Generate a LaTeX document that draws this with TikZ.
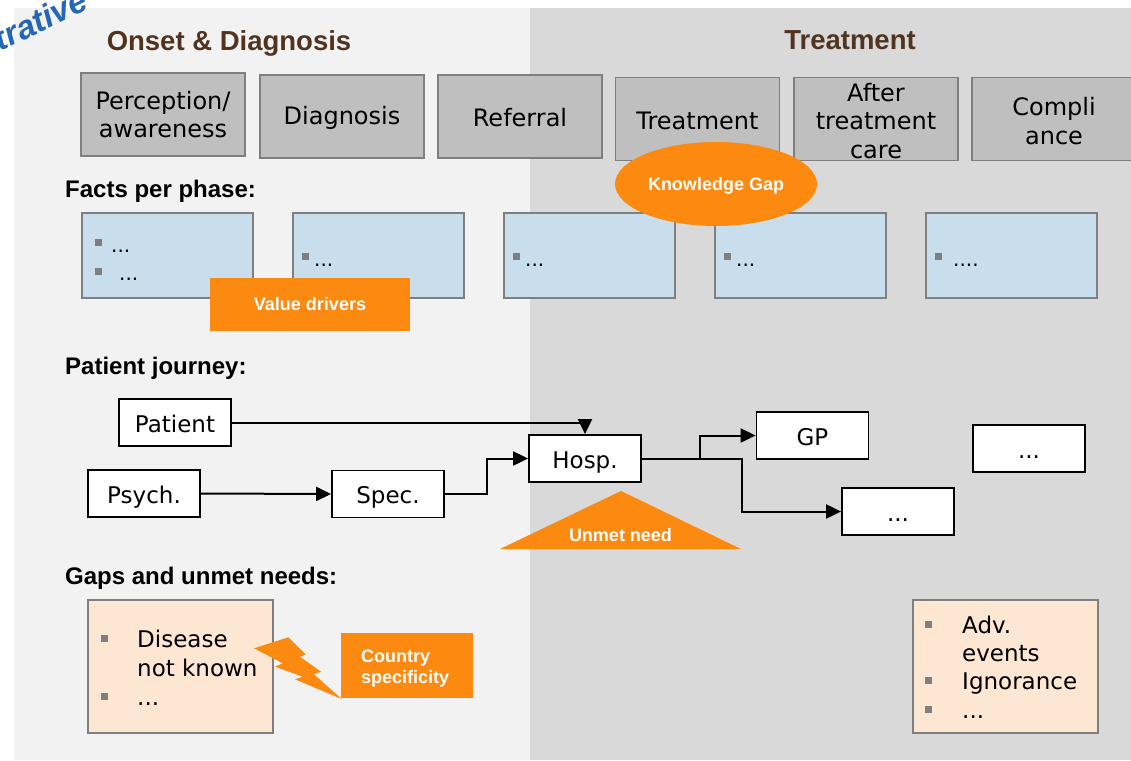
\documentclass[tikz,border=0pt]{standalone}
\usepackage{fontspec}
\setmainfont{DejaVu Sans}
\newfontfamily\hdrfont{Liberation Sans}
\usetikzlibrary{arrows.meta,shapes.geometric}

\definecolor{panelL}{HTML}{F2F2F2}
\definecolor{panelR}{HTML}{D9D9D9}
\definecolor{phasefill}{HTML}{BFBFBF}
\definecolor{edgegray}{HTML}{7F7F7F}
\definecolor{factfill}{HTML}{C9DEEC}
\definecolor{gapfill}{HTML}{FDE6D2}
\definecolor{accent}{HTML}{FD8A10}
\definecolor{headbrown}{HTML}{50341F}
\definecolor{stampblue}{HTML}{2367B5}

\begin{document}
\begin{tikzpicture}[x=1pt,y=-1pt,
  phasebox/.style={draw=edgegray, line width=1.8pt, fill=phasefill, minimum width=164pt, minimum height=83pt, inner sep=0pt},
  phasetext/.style={align=center, font=\fontsize{24}{28.5}\selectfont, inner sep=0pt},
  factbox/.style={draw=edgegray, line width=1.8pt, fill=factfill, minimum width=171pt, minimum height=85pt, inner sep=0pt},
  bulletsq/.style={fill=edgegray, minimum size=7pt, inner sep=0pt},
  dotstext/.style={anchor=base west, inner sep=0pt, font=\fontsize{20}{24}\selectfont},
  secthead/.style={anchor=base west, inner sep=0pt, font=\hdrfont\bfseries\fontsize{24}{28}\selectfont},
  heading/.style={anchor=base, inner sep=0pt, text=headbrown, font=\hdrfont\bfseries\fontsize{27.5}{32}\selectfont},
  accentbox/.style={fill=accent, text=white, font=\hdrfont\bfseries\fontsize{18}{21}\selectfont, inner sep=0pt},
  accenttext/.style={text=white, font=\hdrfont\bfseries\fontsize{18}{21}\selectfont, inner sep=0pt, anchor=base west},
  stepnode/.style={draw=black, line width=1.8pt, fill=white, minimum width=112pt, minimum height=47pt, inner sep=0pt, text height=19pt, text depth=0pt, font=\fontsize{23}{28}\selectfont},
  flow/.style={line width=2pt, -{Triangle[length=15pt,width=14pt]}},
  gapbox/.style={draw=edgegray, line width=1.8pt, fill=gapfill, minimum width=185pt, minimum height=133pt, inner sep=0pt},
  gapline/.style={anchor=base west, inner sep=0pt, font=\fontsize{23}{28}\selectfont},
]
\useasboundingbox (0,0) rectangle (1131,760);

% background panels
\fill[panelL] (14,8.5) rectangle (530,760);
\fill[panelR] (530,8.5) rectangle (1131,760);

% stamp in the corner
\node[rotate=26, anchor=base east, text=stampblue, inner sep=0pt,
      font=\hdrfont\bfseries\itshape\fontsize{33}{38}\selectfont] (stamp) at (90,8) {Illustrative};

% column headings
\node[heading] (hOnset) at (229,50) {Onset \& Diagnosis};
\node[heading] (hTreat) at (850,49) {Treatment};

% phases
\node[phasebox] (ph1) at (163,114.5) {};
\node[phasetext] (ph1t) at (ph1) {Perception/\\awareness};
\node[phasebox] (ph2) at (342,116.5) {};
\node[phasetext] (ph2t) at (342,118) {Diagnosis};
\node[phasebox] (ph3) at (520,116.5) {};
\node[phasetext] (ph3t) at (520,118) {Referral};
\node[phasebox] (ph4) at (697.5,119) {};
\node[phasetext] (ph4t) at (697.5,121) {Treatment};
\node[phasebox] (ph5) at (876,119) {};
\node[phasetext] (ph5t) at (876,121) {After\\treatment\\care};
\node[phasebox] (ph6) at (1054,119) {};
\node[phasetext] (ph6t) at (1054,121) {Compli\\ance};

% facts per phase
\node[secthead] (sFacts) at (65,197) {Facts per phase:};
\node[factbox] (f1) at (167.5,255.5) {};
\node[factbox] (f2) at (378.5,255.5) {};
\node[factbox] (f3) at (589.5,255.5) {};
\node[factbox] (f4) at (800.5,255.5) {};
\node[factbox] (f5) at (1011.5,255.5) {};

\node[bulletsq] (f1b1) at (98.5,242) {};
\node[dotstext] (f1d1) at (111,252) {...};
\node[bulletsq] (f1b2) at (98.5,271.5) {};
\node[dotstext] (f1d2) at (119,280) {...};
\node[bulletsq] (f2b) at (305,256) {};
\node[dotstext] (f2d) at (314,266) {...};
\node[bulletsq] (f3b) at (516.5,256) {};
\node[dotstext] (f3d) at (525,266) {...};
\node[bulletsq] (f4b) at (727.5,256) {};
\node[dotstext] (f4d) at (736,266) {...};
\node[bulletsq] (f5b) at (938.5,256) {};
\node[dotstext] (f5d) at (953,266) {....};

% callouts over the facts row
\node[accentbox, minimum width=200pt, minimum height=53pt] (vd) at (310,304.5) {Value drivers};
\node[accentbox, ellipse, minimum width=202pt, minimum height=84pt, text height=13pt, text depth=0pt] (kg) at (716,184) {Knowledge Gap};

% patient journey
\node[secthead] (sJourney) at (65,374) {Patient journey:};
\node[stepnode] (patient) at (175,422.5) {Patient};
\node[stepnode] (psych) at (144,493.5) {Psych.};
\node[stepnode] (spec) at (388,494) {Spec.};
\node[stepnode] (hosp) at (585,458.5) {Hosp.};
\node[stepnode] (gp) at (812.5,435.5) {GP};
\node[stepnode] (more1) at (1029,448.5) {...};
\node[stepnode] (more2) at (898,511.5) {...};

\draw[flow] (patient.east) -| (hosp.north);
\draw[flow] (psych.east) -- (spec.west);
\draw[flow] (spec.east) -- ++(42,0) |- (hosp.west);
\draw[flow] (hosp.east) -- ++(58,0) |- (gp.west);
\draw[flow] (hosp.east) -- ++(100,0) |- (more2.west);

% unmet need marker
\fill[accent] (500,549) -- (621,491) -- (741,549) -- cycle;
\node[text=white, font=\hdrfont\bfseries\fontsize{18}{21}\selectfont, inner sep=0pt, anchor=base] (unmet) at (620.5,541.5) {Unmet need};

% gaps and unmet needs
\node[secthead] (sGaps) at (65,584) {Gaps and unmet needs:};
\node[gapbox] (gapL) at (180.5,666.5) {};
\node[bulletsq] (gLb1) at (104,638) {};
\node[gapline] (gL1) at (137,647) {Disease};
\node[gapline] (gL2) at (137,676) {not known};
\node[bulletsq] (gLb2) at (104,696) {};
\node[gapline] (gL3) at (137,705) {...};

\node[gapbox] (gapR) at (1005.5,666.5) {};
\node[bulletsq] (gRb1) at (928.5,624) {};
\node[gapline] (gR1) at (962,633) {Adv.};
\node[gapline] (gR2) at (962,661) {events};
\node[bulletsq] (gRb2) at (928.5,680) {};
\node[gapline] (gR3) at (962,689) {Ignorance};
\node[bulletsq] (gRb3) at (928.5,709) {};
\node[gapline] (gR4) at (962,718) {...};

% lightning bolt and country box
\fill[accent] (254,648.3) -- (288.3,637.3) -- (305.7,654.3) -- (300,656.7) -- (321,671.7)
  -- (314,674.3) -- (341.7,699) -- (295,679.3) -- (302.7,676.7) -- (275,666.7)
  -- (282.7,663.3) -- cycle;
\node[accentbox, minimum width=132pt, minimum height=65pt] (cs) at (407,665.5) {};
\node[accenttext] (cs1) at (361,662) {Country};
\node[accenttext] (cs2) at (361,683) {specificity};

\end{tikzpicture}
\end{document}
